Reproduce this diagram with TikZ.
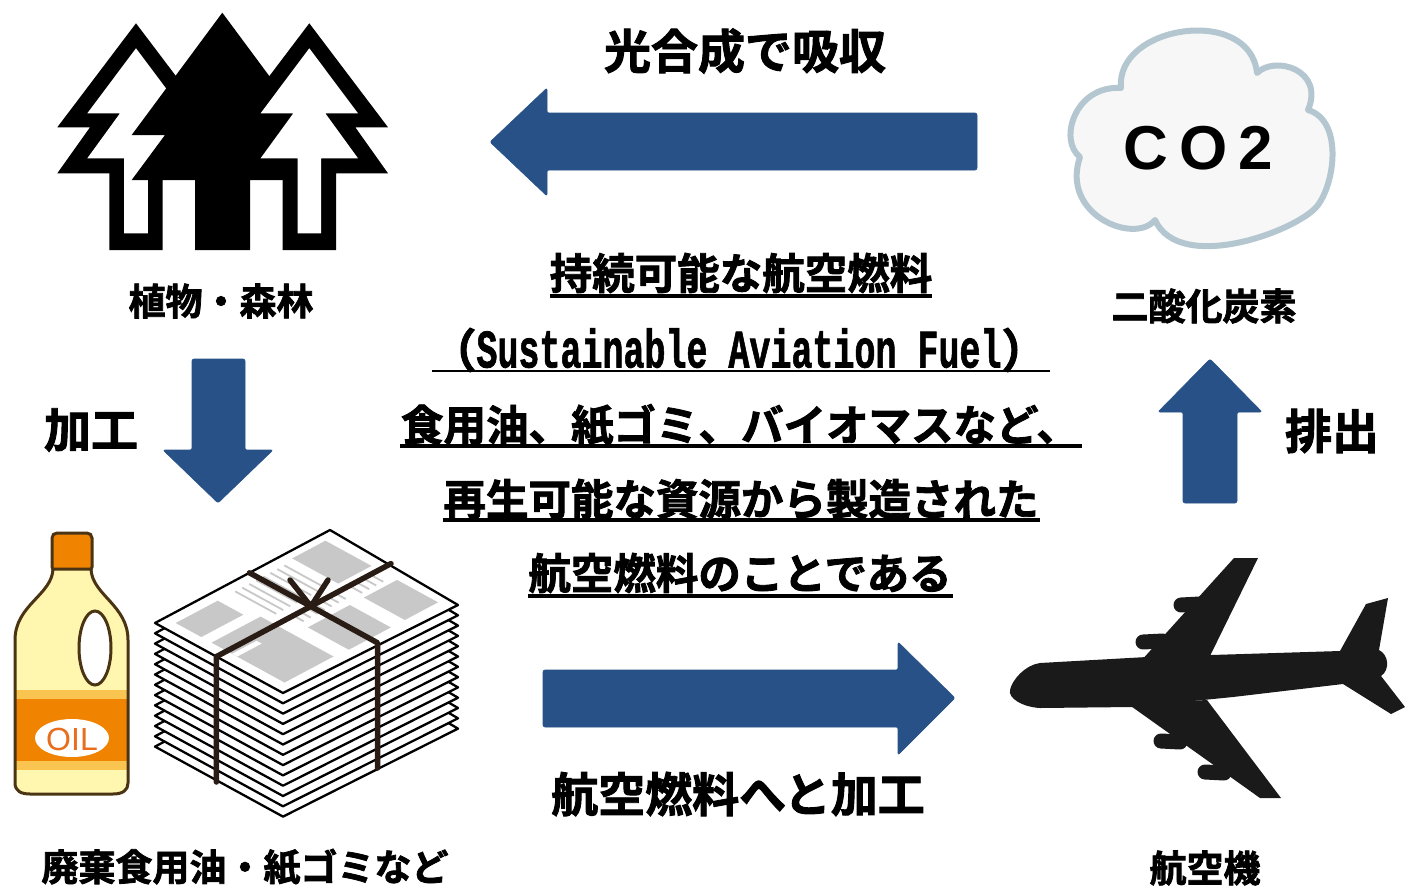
\documentclass[tikz,border=0pt]{standalone}
\usepackage{fontspec}
\usepackage{graphicx}
\newfontfamily\jp{Noto Sans CJK JP Bold}[FakeBold=2]
\newfontfamily\sansbold{Liberation Sans Bold}
\newfontfamily\sansreg{Liberation Sans}
\newfontfamily\monobold{Liberation Mono Bold}[FakeBold=1.5]
\newcommand\fsz[1]{\fontsize{#1}{#1}\selectfont}

\definecolor{arrowblue}{RGB}{39,81,135}
\definecolor{cloudedge}{RGB}{180,199,208}
\definecolor{cloudfill}{RGB}{247,247,247}
\definecolor{bottleedge}{RGB}{74,52,20}
\definecolor{capor}{RGB}{240,131,0}
\definecolor{bottlebody}{RGB}{255,246,176}
\definecolor{labellight}{RGB}{250,196,80}
\definecolor{oiltext}{RGB}{232,110,30}
\definecolor{papergray}{RGB}{200,200,200}
\definecolor{stringc}{RGB}{40,28,20}
\definecolor{planec}{RGB}{26,26,26}

\tikzset{
  blockarrow/.style={fill=arrowblue, draw=arrowblue, line width=0.6pt, rounded corners=2pt, line join=round},
  biglabel/.style={inner sep=0pt, font={\jp\fsz{47}}},
  smalllabel/.style={inner sep=0pt, font={\jp\fsz{37}}},
  saftext/.style={inner sep=0pt, font={\jp\fsz{42.5}}},
  thickul/.style={line width=4pt},
  thinul/.style={line width=2.5pt},
  sheet/.style={fill=white, draw=black, line width=2.3pt, line join=round},
  twine/.style={draw=stringc, line width=5.5pt, line cap=round, line join=round},
  pod/.style={draw=planec, line width=15pt, line cap=round},
  print/.style={papergray, line width=1.8pt},
}

% one hollow pine tree, centred on x = #1
\newcommand\hollowtree[1]{%
  \begin{scope}[shift={(#1,0)}]
    \fill[black] (0,23.3) -- (78.7,127.3) -- (46,127.3) -- (78.7,173.3) -- (26.7,173.3)
      -- (26.7,250) -- (-26.7,250) -- (-26.7,173.3) -- (-78.7,173.3) -- (-46,127.3)
      -- (-78.7,127.3) -- cycle;
    \fill[white] (0,48.3) -- (48.7,113.3) -- (16,113.3) -- (48.7,158.3) -- (11.8,158.3)
      -- (11.8,233.3) -- (-11.8,233.3) -- (-11.8,158.3) -- (-48.7,158.3) -- (-16,113.3)
      -- (-48.7,113.3) -- cycle;
  \end{scope}}

% a printed block on the top newspaper, given in sheet coordinates
\newcommand\pageblock[5]{%
  \fill[#5] (#1,#2) -- (#3,#2) -- (#3,#4) -- (#1,#4) -- cycle;}

\begin{document}
\begin{tikzpicture}[x=1pt, y=-1pt]
\useasboundingbox (0,0) rectangle (1405,886);
\fill[white] (0,0) rectangle (1405,886);

% ---------- forest ----------
\hollowtree{136}
\fill[black] (222.3,12.7) -- (313,135) -- (279.7,135) -- (313,180) -- (250,180)
  -- (250,250) -- (195,250) -- (195,180) -- (131.7,180) -- (165,135) -- (131.7,135) -- cycle;
\hollowtree{309.3}

% ---------- CO2 cloud ----------
\filldraw[fill=cloudfill, draw=cloudedge, line width=6pt, line join=round]
  (1121,88) .. controls (1115,25) and (1250,5) .. (1257,73)
  .. controls (1275,55) and (1325,70) .. (1308,110)
  .. controls (1342,120) and (1336,180) .. (1318,205)
  .. controls (1300,230) and (1180,275) .. (1155,220)
  .. controls (1135,245) and (1060,215) .. (1080,157)
  .. controls (1058,140) and (1075,85) .. (1121,88) -- cycle;
\node[inner sep=0pt, font={\sansbold\fsz{62}}] (co2) at (1198,148) {C\hspace{11pt}O\hspace{11pt}2};

% ---------- oil bottle ----------
\filldraw[fill=capor, draw=bottleedge, line width=3pt, rounded corners=5pt]
  (52,572) rectangle (92,533);
\path[save path=\bottlepath]
  (53,569) .. controls (52,595) and (15,605) .. (15,640) -- (15,783)
  .. controls (15,791) and (21,794) .. (30,794) -- (113,794)
  .. controls (123,794) and (128,790) .. (128,783) -- (128,640)
  .. controls (128,605) and (92,595) .. (91,569) -- cycle;
\fill[bottlebody, use path=\bottlepath];
\begin{scope}
  \clip[use path=\bottlepath];
  \fill[labellight] (0,690) rectangle (140,770);
  \fill[capor] (0,699) rectangle (140,761);
\end{scope}
\draw[bottleedge, line width=3pt, line join=round, use path=\bottlepath];
\filldraw[fill=white, draw=bottleedge, line width=3pt] (95,648) ellipse [x radius=16, y radius=37];
\fill[white] (72,738) ellipse [x radius=37, y radius=19];
\node[inner sep=0pt, text=oiltext, font={\sansreg\fsz{32}}] (oil) at (72,739) {OIL};

% ---------- newspaper bundle ----------
\foreach \k in {12,11,...,1}{
  \filldraw[sheet] (155,{623+\k*10.3}) -- (330,{530+\k*10.3}) -- (458,{605+\k*10.3})
    -- (283,{693+\k*10.3}) -- cycle;
}
\filldraw[sheet] (155,623) -- (330,530) -- (458,605) -- (283,693) -- cycle;
\begin{scope}[shift={(155,623)}, x={(175pt,93pt)}, y={(128pt,-70pt)}]
  \pageblock{0.06}{0.08}{0.30}{0.28}{papergray}
  \pageblock{0.06}{0.36}{0.34}{0.93}{papergray}
  \pageblock{0.06}{0.52}{0.20}{0.56}{white}
  \pageblock{0.74}{0.06}{0.93}{0.42}{papergray}
  \pageblock{0.74}{0.62}{0.93}{0.94}{papergray}
  \pageblock{0.42}{0.62}{0.66}{0.94}{papergray}
  \foreach \u in {0.40,0.44,...,0.69}
    \draw[print] (\u,0.08) -- (\u,0.40);
  \foreach \u in {0.44,0.48,...,0.69}
    \draw[print] (\u,0.46) -- (\u,0.56);
  \foreach \u in {0.76,0.80,...,0.92}
    \draw[print] (\u,0.47) -- (\u,0.58);
\end{scope}
\draw[twine] (391,563.6) -- (216.4,656.6) -- (216.4,782);
\draw[twine] (249.5,572.8) -- (377.5,642.8) -- (377.5,768);
\draw[twine] (290,580) -- (310.9,606.4) -- (328,580);

% ---------- aeroplane ----------
\fill[planec] (1040,663) -- (1147,657) -- (1340,651) -- (1366,604) -- (1388,598) -- (1379,650)
  .. controls (1389,655) and (1390,670) .. (1381,676) -- (1405,707) -- (1391,714)
  -- (1343,684) -- (1233,697) -- (1133,707) -- (1040,708)
  .. controls (1022,707) and (1008,698) .. (1010,690)
  .. controls (1012,680) and (1025,665) .. (1040,663) -- cycle;
\fill[planec] (1140,662) -- (1234,558) -- (1258,558) -- (1210,656) -- cycle;
\fill[planec] (1128,704) -- (1260,798) -- (1281,798) -- (1207,700) -- cycle;
\draw[pod] (1181,605) -- (1200,604);
\draw[pod] (1143,642) -- (1163,641);
\draw[pod] (1161,741) -- (1180,742);
\draw[pod] (1205,772) -- (1224,773);

% ---------- block arrows ----------
\filldraw[blockarrow] (977,113) -- (547,113) -- (547,88) -- (490,142) -- (547,196) -- (547,170) -- (977,170) -- cycle;
\filldraw[blockarrow] (192,359) -- (245,359) -- (245,450) -- (273,450) -- (218,503) -- (163,450) -- (192,450) -- cycle;
\filldraw[blockarrow] (1183,503) -- (1183,412) -- (1158,412) -- (1210,359) -- (1262,412) -- (1237,412) -- (1237,503) -- cycle;
\filldraw[blockarrow] (543,670) -- (898,670) -- (898,642) -- (955,698) -- (898,755) -- (898,727) -- (543,727) -- cycle;

% ---------- labels ----------
\node[biglabel] (absorb) at (745,51) {光合成で吸収};
\node[smalllabel] (forest) at (221,301) {植物・森林};
\node[biglabel] (process) at (91,430) {加工};
\node[smalllabel] (carbon) at (1204,306) {二酸化炭素};
\node[biglabel] (emit) at (1332,431) {排出};
\node[biglabel] (tofuel) at (738,794) {航空燃料へと加工};
\node[smalllabel] (waste) at (245,867) {廃棄食用油・紙ゴミなど};
\node[smalllabel] (plane) at (1205,868) {航空機};

% ---------- SAF description ----------
\node[saftext] (saf1) at (741,273) {持続可能な航空燃料};
\node[inner sep=0pt] (saf2) at (739,350)
  {{\jp\fsz{46}（}{\monobold\fsz{35}\scalebox{1}[1.55]{Sustainable Aviation Fuel}}{\jp\fsz{46}）}};
\node[saftext] (saf3) at (740,425) {食用油、紙ゴミ、バイオマスなど、};
\node[saftext] (saf4) at (741,499) {再生可能な資源から製造された};
\node[saftext] (saf5) at (740,573) {航空燃料のことである};
\draw[thickul] (550,296) -- (932,296);
\draw[thinul] (432,371) -- (1050,371);
\draw[thickul] (400,446) -- (1082,446);
\draw[thickul] (443,520) -- (1040,520);
\draw[thickul] (528,596) -- (953,596);
\end{tikzpicture}
\end{document}
